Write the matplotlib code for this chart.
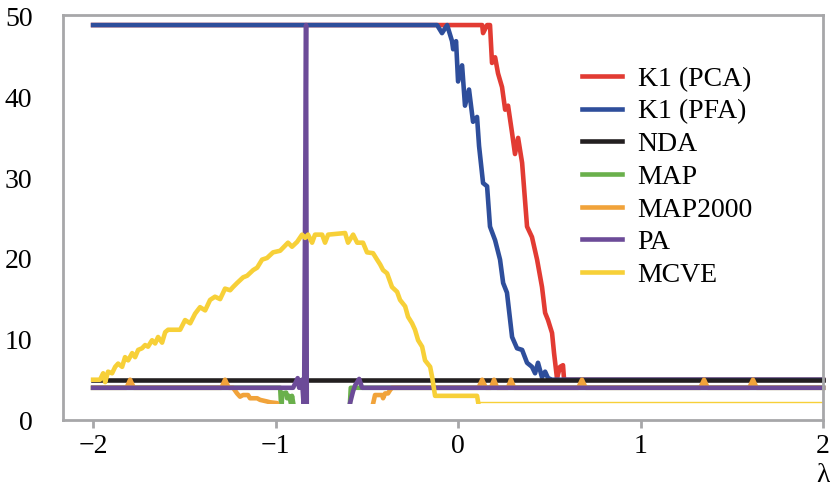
import numpy as np
import matplotlib
matplotlib.use('Agg')
import matplotlib.pyplot as plt
from matplotlib.patches import Rectangle

plt.rcParams['font.family'] = ['Liberation Serif', 'DejaVu Serif']

# values (x = lambda, y = number of factors)
# values below ~2 are not shown in the original (cut off), kept low here
k1_pca_x = [-2.0, 0.132, 0.137, 0.159, 0.175, 0.186, 0.203, 0.219, 0.241, 0.258, 0.274,
            0.296, 0.312, 0.329, 0.351, 0.378, 0.405, 0.433, 0.460, 0.477, 0.493, 0.515,
            0.526, 0.542, 0.559, 0.575, 0.581, 2.0]
k1_pca_y = [49, 49, 48, 49, 49, 44.3, 45, 43, 41.3, 38.5, 39,
            35.6, 33, 35, 31.9, 24, 22.7, 19.9, 16.5, 13.3, 12.4, 10.8,
            8.3, 5.2, 6.6, 6.8, 5, 5]

k1_pfa_x = [-2.0, -0.115, -0.088, -0.060, -0.033, -0.027, -0.011, 0.0, 0.022, 0.038, 0.060,
            0.082, 0.104, 0.115, 0.137, 0.159, 0.175, 0.203, 0.230, 0.247, 0.268, 0.296,
            0.323, 0.351, 0.378, 0.405, 0.422, 0.438, 0.460, 0.477, 0.493, 0.515, 2.0]
k1_pfa_y = [49, 49, 48, 49, 47, 46, 47, 42, 44, 39, 41,
            37, 37.6, 34, 29.4, 29, 24, 22.3, 19.9, 17, 15.8, 10.3,
            8.9, 8.7, 7.1, 6.6, 5.8, 7.1, 5.3, 6, 5.2, 5, 5]

nda_x = [-2.0, 2.0]
nda_y = [5, 5]

map_x = [-2.0, -0.975, -0.968, -0.964, -0.942, -0.937, -0.926, -0.915, -0.910, -0.899,
         -0.890, -0.603, -0.595, -0.588, 2.0]
map_y = [4, 4, 1, 3.3, 3.4, 2.7, 3.0, 2.0, 3.0, 1.5,
         1, 1, 1, 4, 4]

map2000_x = [-2.0, -1.817, -1.797, -1.777, -1.297, -1.277, -1.257, -1.233, -1.211, -1.195,
             -1.178, -1.151, -1.140, -1.101, -1.085, -1.047, -1.030, -0.992, -0.985,
             -0.480, -0.466, -0.455, -0.416, -0.411, -0.400, -0.384, -0.373, -0.362,
             0.112, 0.132, 0.152, 0.180, 0.197, 0.214, 0.273, 0.290, 0.307,
             0.659, 0.679, 0.699, 1.328, 1.348, 1.368, 1.596, 1.616, 1.636, 2.0]
map2000_y = [4, 4, 5, 4, 4, 5, 4, 4, 3.3, 2.9,
             3.1, 3.1, 2.7, 2.7, 2.5, 2.3, 2.2, 2.1, 1,
             1, 2.0, 3.1, 3.1, 2.7, 3.3, 3.3, 3.7, 4,
             4, 5, 4, 4, 5, 4, 4, 5, 4,
             4, 5, 4, 4, 5, 4, 4, 5, 4, 4]

pa_x = [-2.0, -0.904, -0.879, -0.871, -0.855, -0.844, -0.833, -0.829, -0.600, -0.592,
        -0.575, -0.564, -0.542, -0.526, 2.0]
pa_y = [4, 4, 5.2, 4, 5, 1, 49, 1, 1, 2.1,
        3.6, 4.3, 5.1, 4, 4]

mcve_x = [-2.0, -1.962, -1.945, -1.934, -1.918, -1.896, -1.879, -1.863, -1.841, -1.825,
          -1.808, -1.786, -1.770, -1.753, -1.732, -1.715, -1.699, -1.677, -1.660, -1.644,
          -1.622, -1.605, -1.589, -1.523, -1.496, -1.468, -1.441, -1.414, -1.386, -1.359,
          -1.332, -1.304, -1.277, -1.249, -1.233, -1.211, -1.178, -1.156, -1.123, -1.101,
          -1.074, -1.047, -1.014, -0.975, -0.932, -0.910, -0.882, -0.855, -0.838, -0.822,
          -0.800, -0.784, -0.745, -0.729, -0.712, -0.619, -0.603, -0.575, -0.553, -0.521,
          -0.499, -0.466, -0.444, -0.427, -0.411, -0.389, -0.362, -0.334, -0.318, -0.290,
          -0.274, -0.252, -0.236, -0.219, -0.197, -0.181, -0.153, -0.142, -0.126, 0.104,
          0.110]
mcve_y = [5, 5, 5.8, 4.7, 6, 5.8, 6.6, 7, 6.6, 7.8,
          7.4, 8.3, 7.8, 8.7, 8.9, 9.3, 9.1, 9.9, 9.5, 10.3,
          9.6, 10.9, 11.2, 11.2, 12.4, 12.0, 13.2, 14.0, 13.6, 14.9,
          15.3, 15.0, 16.3, 16.1, 16.5, 17.0, 17.7, 17.9, 18.6, 18.9,
          19.9, 20.1, 20.8, 21.0, 22.0, 21.5, 22.1, 23.0, 22.6, 23.0,
          22.0, 23.0, 23.0, 22.0, 23.0, 23.2, 22.0, 23.0, 22.0, 22.0,
          20.8, 20.7, 19.9, 19.3, 18.6, 18.2, 16.5, 15.9, 14.9, 14.1,
          12.8, 12.0, 11.2, 9.9, 9.1, 7.4, 6.6, 5.3, 3.0, 3.0,
          2.2]
mcve_tail_x = [0.110, 2.0]
mcve_tail_y = [2.2, 2.2]

names = ['K1 (PCA)', 'K1 (PFA)', 'NDA', 'MAP', 'MAP2000', 'PA', 'MCVE']
colors = ['#e23b33', '#2e4e9b', '#231f20', '#6ab04c', '#f1a33a', '#6c4b98', '#f7d038']
series = [(k1_pca_x, k1_pca_y), (k1_pfa_x, k1_pfa_y), (nda_x, nda_y), (map_x, map_y),
          (map2000_x, map2000_y), (pa_x, pa_y), (mcve_x, mcve_y)]

fig = plt.figure(figsize=(8.3, 4.88), dpi=100)
ax = fig.add_axes([0.0759, 0.1393, 0.9157, 0.830])

# values under ~2 are hidden like in the original
clip = Rectangle((-3, 2.0), 6, 60, transform=ax.transData)

for (x, y), nm, c in zip(series, names, colors):
    ln, = ax.plot(x, y, color=c, lw=3.3, label=nm)
    ln.set_clip_path(clip)

tail, = ax.plot(mcve_tail_x, mcve_tail_y, color=colors[-1], lw=1)

ax.set_xlim(-2.165, 2.0)
ax.set_ylim(0, 50.25)
ax.set_xticks([-2, -1, 0, 1, 2])
ax.set_yticks([0, 10, 20, 30, 40, 50])
ax.set_yticks([0], minor=True)   # only the zero tick has a mark

gray = '#a7a7a9'
for s in ax.spines.values():
    s.set_color(gray)
    s.set_linewidth(2)
ax.tick_params(axis='x', direction='out', length=6, width=2, color=gray,
               labelsize=20, pad=4)
ax.tick_params(axis='y', which='major', length=0, labelsize=20, pad=22)
ax.tick_params(axis='y', which='minor', length=9, width=2, color=gray)

ax.text(1.0, -0.105, 'λ', transform=ax.transAxes, ha='center', va='top', fontsize=20)

ax.legend(loc='upper left', bbox_to_anchor=(0.683, 0.873), frameon=False,
          fontsize=20, handlelength=1.45, handletextpad=0.55, labelspacing=0.26,
          borderpad=0, borderaxespad=0)

fig.savefig('out.png', dpi=100)
